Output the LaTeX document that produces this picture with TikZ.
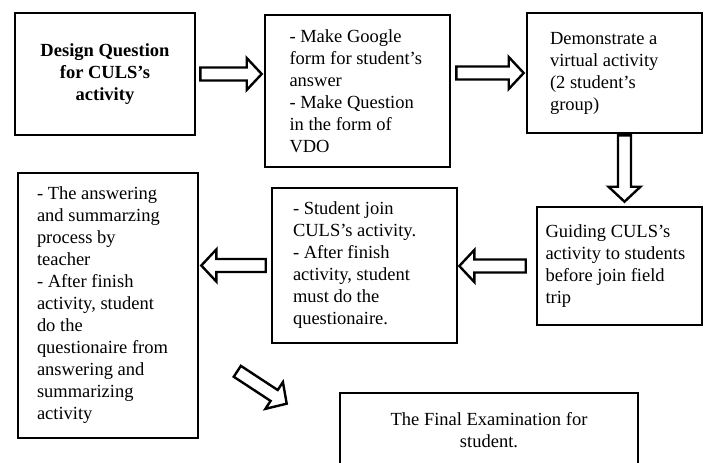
\documentclass[tikz,border=0pt]{standalone}
\usepackage{fontspec}
\setmainfont{Liberation Serif}
\usetikzlibrary{calc,positioning}

\begin{document}
\begin{tikzpicture}
		[   x=1pt,y=-1pt,
			stepbox/.style={draw=black,line width=2.6pt,fill=white,rectangle,inner sep=0pt,align=flush left,
				font=\fontsize{18.5}{22}\selectfont},
		]
		\tikzset{fat arrow/.style={draw=black,line width=2.4pt,fill=white,line join=miter,
				to path={let \p1=($(\tikztotarget)!15pt!(\tikztostart)$) in
					($(\tikztostart)!6.5pt!90:(\tikztotarget)$) -- ($(\p1)!6.5pt!90:(\tikztotarget)$)
					-- ($(\p1)!16pt!90:(\tikztotarget)$) -- (\tikztotarget)
					-- ($(\p1)!16pt!-90:(\tikztotarget)$) -- ($(\p1)!6.5pt!-90:(\tikztotarget)$)
					-- ($(\tikztostart)!6.5pt!-90:(\tikztotarget)$) -- cycle}}}
		\useasboundingbox (0,0) rectangle (705,463);
		\clip (0,0) rectangle (705,463);
		
		\node[stepbox,minimum width=180pt,minimum height=122pt,align=center,
			font=\fontsize{18.5}{22}\selectfont\bfseries] (design) at (105,74) {Design Question\\for CULS’s\\activity};
		\node[stepbox,minimum width=185pt,minimum height=152pt,text width=136pt] (google) at (357.5,91)
			{- Make Google\\form for student’s\\answer\\- Make Question\\in the form of\\VDO};
		\node[stepbox,minimum width=175pt,minimum height=120pt,text width=129pt] (demo) at (614.5,73)
			{Demonstrate a\\virtual activity\\(2 student’s\\group)};
		
		\node[stepbox,minimum width=165pt,minimum height=118pt,text width=148pt] (guide) at (619.5,266)
			{Guiding CULS’s\\activity to students\\before join field\\trip};
		\node[stepbox,minimum width=185pt,minimum height=155pt,text width=143pt] (join) at (364.5,265.5)
			{- Student join\\CULS’s activity.\\- After finish\\activity, student\\must do the\\questionaire.};
		\node[stepbox,minimum width=180pt,minimum height=265pt,text width=142pt] (answer) at (108,305.5)
			{- The answering\\and summarzing\\process by\\teacher\\- After finish\\activity, student\\do the\\questionaire from\\answering and\\summarizing\\activity};
		
		\node[stepbox,minimum width=298pt,minimum height=74pt,align=center] (final) at (489,430)
			{The Final Examination for\\student.};
		
		% arrow ends
		\coordinate (a1s) at ([xshift=4pt]design.east);
		\coordinate (a1e) at ($(google.west |- a1s)+(-2,0)$);
		\coordinate (a2s) at ($(google.east |- demo.west)+(5,0)$);
		\coordinate (a2e) at ($(demo.west)+(-2,0)$);
		\coordinate (a3s) at ($(demo.south)+(10,1)$);
		\coordinate (a3e) at ($(guide.north)+(5,-4)$);
		\coordinate (a4s) at ($(guide.west)+(-10,0)$);
		\coordinate (a4e) at ($(join.east |- a4s)+(1,0)$);
		\coordinate (a5s) at ($(join.west)+(-5,0)$);
		\coordinate (a5e) at ($(answer.east |- a5s)+(2,0)$);
		\coordinate (a6s) at ($(answer.south east)+(38,-68)$);
		\coordinate (a6e) at ($(final.north west)+(-52,12)$);
		
		\foreach \s/\t in {a1s/a1e,a2s/a2e,a3s/a3e,a4s/a4e,a5s/a5e,a6s/a6e}
		{
			\draw[fat arrow] (\s) to (\t);
		}
		
\end{tikzpicture}
\end{document}
